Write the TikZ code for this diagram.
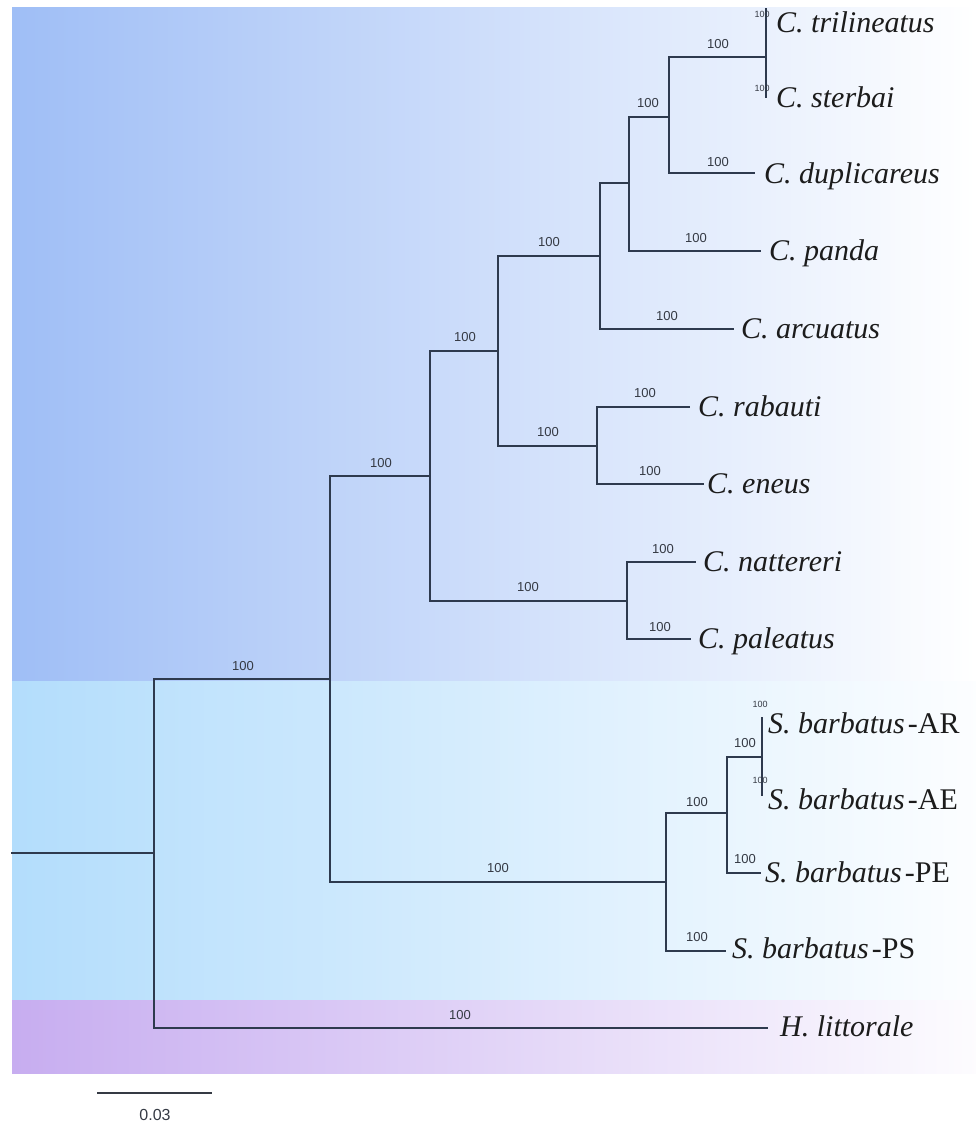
\documentclass[tikz,border=0pt]{standalone}
\usepackage{fontspec}
\setmainfont{Liberation Serif}
\newfontfamily\labfont{Liberation Sans}
\definecolor{branch}{HTML}{2E3A4E}
\definecolor{bandblue}{HTML}{9FBEF6}
\definecolor{bandcyan}{HTML}{B3DDFC}
\definecolor{bandpurple}{HTML}{C7ADF0}
\definecolor{supp}{HTML}{353A44}
\definecolor{taxcol}{HTML}{1C1C1C}
\begin{document}
\begin{tikzpicture}[x=1pt,y=-1pt,
  edge/.style={draw=branch,line width=1.9pt,line cap=rect},
  bs/.style={font=\labfont\fontsize{13}{13}\selectfont,text=supp,inner sep=0pt,anchor=center},
  bssmall/.style={font=\labfont\fontsize{9}{9}\selectfont,text=supp,inner sep=0pt,anchor=center},
  taxon/.style={font=\fontsize{30}{30}\selectfont\itshape,text=taxcol,inner sep=0pt,anchor=base west}]
\useasboundingbox (0,0) rectangle (976,1124);
% clade bands
\shade[left color=bandblue,right color=white] (12,8) rectangle (976,681);
\shade[left color=bandcyan,right color=white!96!bandcyan] (12,681) rectangle (976,1000);
\shade[left color=bandpurple,right color=white!96!bandpurple] (12,1000) rectangle (976,1073);

% internal nodes
\coordinate (start) at (12,853);
\coordinate (nR) at (154,853);
\coordinate (nA) at (330,679);
\coordinate (nC) at (430,476);
\coordinate (nC1) at (498,351);
\coordinate (nC2) at (627,601);
\coordinate (nC3) at (600,256);
\coordinate (nC4) at (597,446);
\coordinate (nC5) at (629,183);
\coordinate (nC6) at (669,117);
\coordinate (nC7) at (766,57);
\coordinate (nS) at (666,882);
\coordinate (nS1) at (727,813);
\coordinate (nS2) at (762,757);
% tips (branch ends)
\coordinate (eTri) at (766,9);
\coordinate (eSte) at (766,97);
\coordinate (eDup) at (754,173);
\coordinate (ePan) at (760,251);
\coordinate (eArc) at (733,329);
\coordinate (eRab) at (689,407);
\coordinate (eEne) at (703,484);
\coordinate (eNat) at (695,562);
\coordinate (ePal) at (690,639);
\coordinate (eAR) at (762,718);
\coordinate (eAE) at (762,795);
\coordinate (ePE) at (760,873);
\coordinate (ePS) at (725,951);
\coordinate (eHl) at (767,1028);

% branches
\draw[edge] (start) -- (nR);
\draw[edge] (nR) |- (nA);
\draw[edge] (nR) |- (eHl);
\draw[edge] (nA) |- (nC);
\draw[edge] (nA) |- (nS);
\draw[edge] (nC) |- (nC1);
\draw[edge] (nC) |- (nC2);
\draw[edge] (nC2) |- (eNat);
\draw[edge] (nC2) |- (ePal);
\draw[edge] (nC1) |- (nC3);
\draw[edge] (nC1) |- (nC4);
\draw[edge] (nC4) |- (eRab);
\draw[edge] (nC4) |- (eEne);
\draw[edge] (nC3) |- (nC5);
\draw[edge] (nC3) |- (eArc);
\draw[edge] (nC5) |- (nC6);
\draw[edge] (nC5) |- (ePan);
\draw[edge] (nC6) |- (nC7);
\draw[edge] (nC6) |- (eDup);
\draw[edge] (nC7) -- (eTri);
\draw[edge] (nC7) -- (eSte);
\draw[edge] (nS) |- (nS1);
\draw[edge] (nS) |- (ePS);
\draw[edge] (nS1) |- (nS2);
\draw[edge] (nS1) |- (ePE);
\draw[edge] (nS2) -- (eAR);
\draw[edge] (nS2) -- (eAE);

% taxon names
\node[taxon] (tTri) at (776,33) {C. trilineatus};
\node[taxon] (tSte) at (776,107) {C. sterbai};
\node[taxon] (tDup) at (764,183) {C. duplicareus};
\node[taxon] (tPan) at (769,260) {C. panda};
\node[taxon] (tArc) at (741,338) {C. arcuatus};
\node[taxon] (tRab) at (698,416) {C. rabauti};
\node[taxon] (tEne) at (707,493) {C. eneus};
\node[taxon] (tNat) at (703,571) {C. nattereri};
\node[taxon] (tPal) at (698,648) {C. paleatus};
\node[taxon] (tAR) at (768,733) {S. barbatus\upshape\hspace{3pt}-AR};
\node[taxon] (tAE) at (768,809) {S. barbatus\upshape\hspace{3pt}-AE};
\node[taxon] (tPE) at (765,882) {S. barbatus\upshape\hspace{3pt}-PE};
\node[taxon] (tPS) at (732,958) {S. barbatus\upshape\hspace{3pt}-PS};
\node[taxon] (tHl) at (780,1036) {H. littorale};

% bootstrap support values
\node[bs] (b1) at (243,666) {100};
\node[bs] (b2) at (381,463) {100};
\node[bs] (b3) at (465,337) {100};
\node[bs] (b4) at (549,242) {100};
\node[bs] (b5) at (648,103) {100};
\node[bs] (b6) at (718,44) {100};
\node[bs] (b7) at (718,162) {100};
\node[bs] (b8) at (696,238) {100};
\node[bs] (b9) at (667,316) {100};
\node[bs] (b10) at (548,432) {100};
\node[bs] (b11) at (645,393) {100};
\node[bs] (b12) at (650,471) {100};
\node[bs] (b13) at (528,587) {100};
\node[bs] (b14) at (663,549) {100};
\node[bs] (b15) at (660,627) {100};
\node[bs] (b16) at (498,868) {100};
\node[bs] (b17) at (697,802) {100};
\node[bs] (b18) at (697,937) {100};
\node[bs] (b19) at (745,859) {100};
\node[bs] (b20) at (745,743) {100};
\node[bs] (b21) at (460,1015) {100};
\node[bssmall] (b22) at (762,14) {100};
\node[bssmall] (b23) at (762,88) {100};
\node[bssmall] (b24) at (760,704) {100};
\node[bssmall] (b25) at (760,780) {100};

% scale bar
\coordinate (sbL) at (97,1093);
\coordinate (sbR) at (212,1093);
\draw[draw=supp,line width=1.9pt] (sbL) -- (sbR);
\node[bs,font=\labfont\fontsize{16}{16}\selectfont] (sbT) at (155,1115) {0.03};
\end{tikzpicture}
\end{document}
